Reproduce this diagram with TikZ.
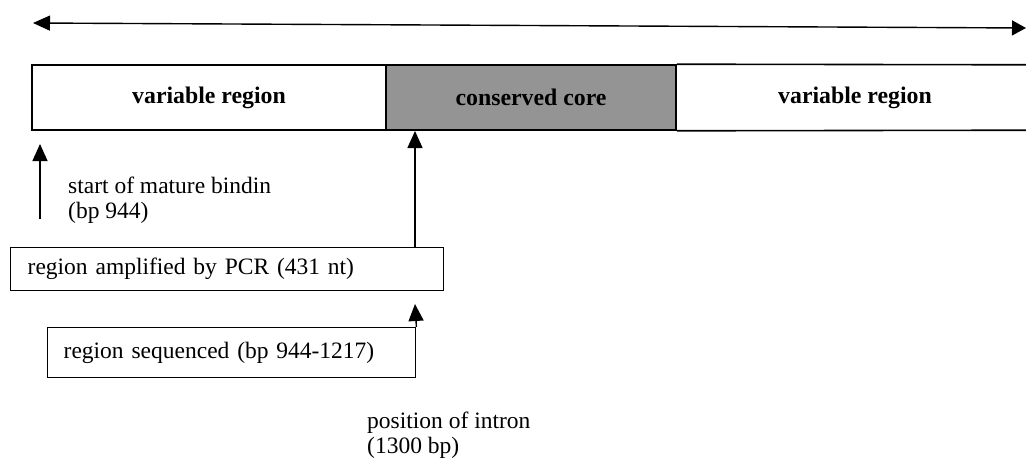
\documentclass[tikz,border=0pt]{standalone}
\usepackage{fontspec}
\setmainfont{Liberation Serif}
\usetikzlibrary{arrows.meta}
\begin{document}
\begin{tikzpicture}[x=1pt,y=-1pt,
  every node/.style={font=\fontsize{23.5}{25.5}\selectfont},
  bar/.style={draw, line width=1.6pt, inner sep=0pt, font=\fontsize{23.8}{25.5}\selectfont\bfseries},
  lbox/.style={draw, line width=1.4pt, inner ysep=0pt, align=left},
  arr/.style={line width=1.4pt, -{Triangle[length=17pt,width=15pt]}},
  lab/.style={inner sep=0pt, align=left, anchor=west}]
\useasboundingbox (0,0) rectangle (1026,460);
% scale arrow
\coordinate (L) at (33,23);
\coordinate (R) at (1026,28);
\draw[line width=1.4pt, {Triangle[length=17pt,width=15pt]}-{Triangle[length=14pt,width=15pt]}] (L) -- (R);
% bar
\node[bar, minimum width=354pt, minimum height=65pt] (v1) at (209,97.5) {variable region};
\node[bar, fill=black!42, minimum width=290pt, minimum height=65pt] (core) at (531,97.5) {conserved core};
\node[inner sep=0pt, minimum width=350pt, minimum height=65pt, font=\fontsize{23.8}{25.5}\selectfont\bfseries] (v2) at (855,97.5) {variable region};
\draw[line width=1.6pt] (core.north east) -- (v2.north east);
\draw[line width=1.6pt] (core.south east) -- (v2.south east);
% start arrow
\coordinate (s0) at (40,219);
\coordinate (s1) at (40,144);
\draw[arr] (s0) -- (s1);
\node[lab] (start) at (68,200) {start of mature bindin\\(bp 944)};
% PCR box
\node[lbox, text width=399pt, inner xsep=17pt, minimum height=43pt, anchor=north west] (pcr) at (10,247) {region amplified by PCR (431 nt)};
\coordinate (a2) at (415,131);
\draw[arr] (pcr.north -| a2) -- (a2);
% sequenced box
\node[lbox, text width=336pt, inner xsep=16pt, minimum height=50pt, anchor=north west] (seq) at (47,327) {region sequenced (bp 944-1217)};
\coordinate (a3) at (415,304);
\draw[arr] (seq.north east) -- (a3);
% intron
\node[lab] (intron) at (367,435) {position of intron\\(1300 bp)};
\end{tikzpicture}
\end{document}
